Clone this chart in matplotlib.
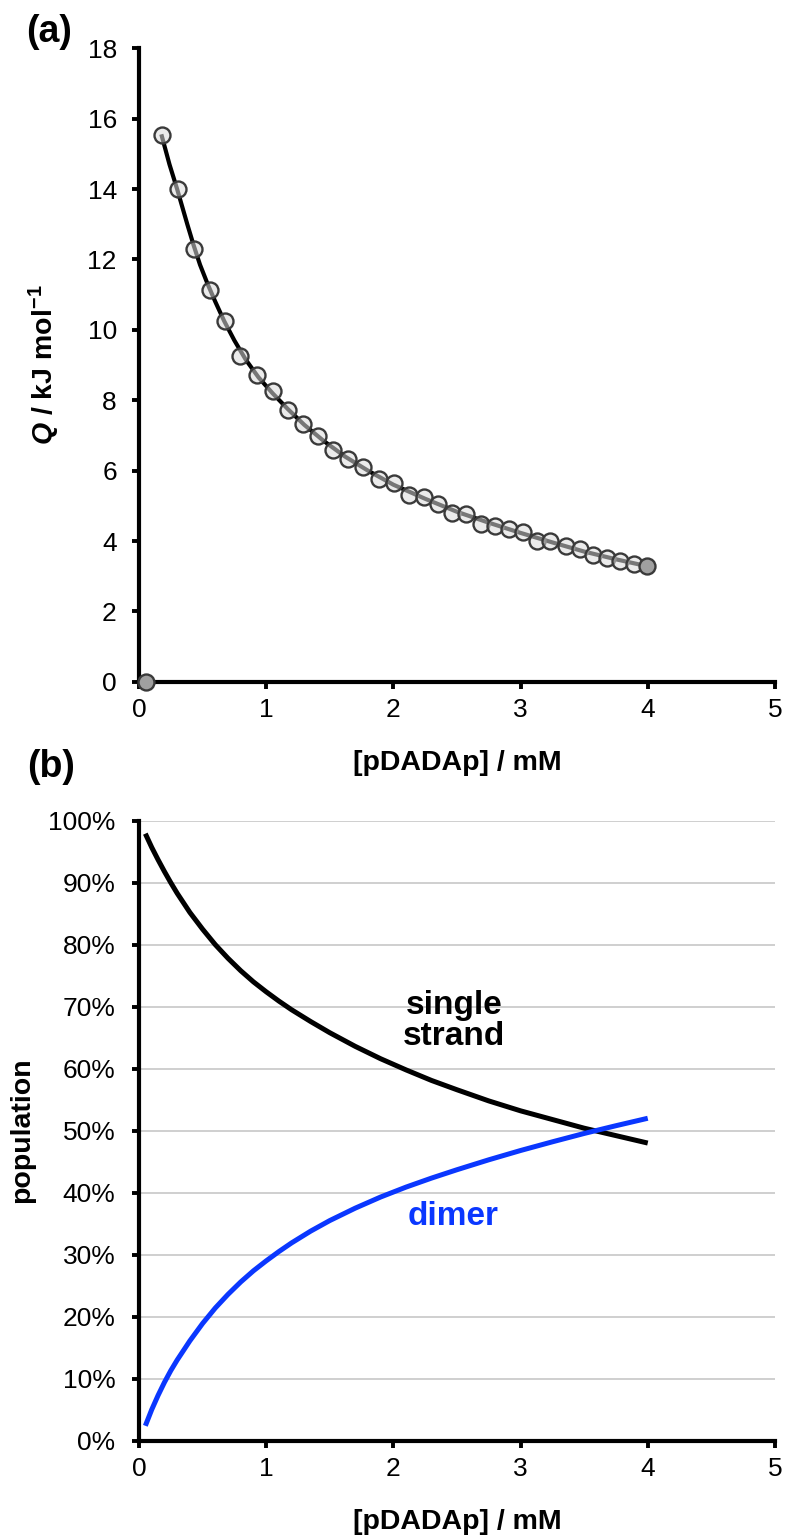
import matplotlib
matplotlib.use('Agg')
import matplotlib.pyplot as plt
from matplotlib.ticker import PercentFormatter

plt.rcParams['font.family'] = ['Liberation Sans', 'DejaVu Sans']
plt.rcParams['mathtext.fontset'] = 'custom'
plt.rcParams['mathtext.rm'] = 'Liberation Sans:bold'
plt.rcParams['mathtext.bf'] = 'Liberation Sans:bold'
plt.rcParams['mathtext.it'] = 'Liberation Sans:bold:italic'

# (a) heat per injection
conc = [0.055, 0.178, 0.304, 0.432, 0.556, 0.679, 0.797, 0.926, 1.052, 1.172,
        1.290, 1.411, 1.529, 1.647, 1.760, 1.884, 2.007, 2.120, 2.238, 2.351,
        2.461, 2.574, 2.690, 2.802, 2.913, 3.020, 3.130, 3.235, 3.354, 3.464,
        3.571, 3.676, 3.781, 3.891, 3.995]
heat = [0.0, 15.55, 14.0, 12.30, 11.12, 10.24, 9.27, 8.73, 8.25, 7.71,
        7.33, 6.97, 6.59, 6.32, 6.09, 5.76, 5.64, 5.32, 5.24, 5.05,
        4.79, 4.77, 4.49, 4.44, 4.34, 4.25, 3.99, 4.01, 3.87, 3.77,
        3.60, 3.52, 3.44, 3.36, 3.30]

# fitted curve
conc_fit = [0.18, 0.21, 0.24, 0.27, 0.30, 0.34, 0.38, 0.43, 0.48, 0.54,
            0.60, 0.67, 0.75, 0.84, 0.94, 1.05, 1.17, 1.30, 1.45, 1.62,
            1.80, 2.00, 2.25, 2.50, 2.75, 3.00, 3.25, 3.50, 3.75, 4.00]
heat_fit = [15.5, 15.1, 14.7, 14.35, 14.0, 13.5, 13.0, 12.4, 11.85, 11.3,
            10.8, 10.25, 9.7, 9.15, 8.65, 8.2, 7.75, 7.3, 6.85, 6.4,
            6.0, 5.6, 5.2, 4.83, 4.52, 4.23, 3.96, 3.70, 3.48, 3.28]

# (b) populations
conc_pop = [0.05, 0.10, 0.15, 0.20, 0.25, 0.30, 0.40, 0.50, 0.60, 0.70,
            0.80, 0.90, 1.00, 1.10, 1.20, 1.35, 1.50, 1.70, 1.90, 2.10,
            2.30, 2.50, 2.75, 3.00, 3.25, 3.50, 3.75, 4.00]
single = [97.9, 95.7, 93.7, 91.8, 90.0, 88.3, 85.2, 82.5, 80.0, 77.8,
          75.8, 74.0, 72.4, 70.9, 69.5, 67.6, 65.8, 63.6, 61.6, 59.8,
          58.1, 56.6, 54.8, 53.2, 51.8, 50.4, 49.2, 48.0]
dimer = [2.4, 5.0, 7.3, 9.4, 11.3, 13.0, 16.1, 18.9, 21.4, 23.6,
         25.6, 27.4, 29.0, 30.5, 31.9, 33.8, 35.5, 37.5, 39.3, 40.9,
         42.35, 43.7, 45.3, 46.8, 48.2, 49.55, 50.8, 52.0]

blue = '#0a37ff'

fig = plt.figure(figsize=(7.91, 15.4), dpi=100)
ax1 = fig.add_axes([0.1757, 0.5573, 0.804, 0.4113])
ax2 = fig.add_axes([0.1757, 0.0645, 0.804, 0.4026])

for ax in (ax1, ax2):
    ax.spines['top'].set_visible(False)
    ax.spines['right'].set_visible(False)
    for s in ('left', 'bottom'):
        ax.spines[s].set_linewidth(3)
    ax.tick_params(direction='out', length=5, width=2.8, labelsize=19)
    ax.tick_params(axis='x', pad=7)
    ax.set_xlim(0, 5)
    ax.set_xticks(range(6))

# top panel
ax1.plot(conc_fit, heat_fit, color='black', lw=3, zorder=2)
ax1.plot(conc[1:-1], heat[1:-1], 'o', ms=11.5, mfc=(0.86, 0.86, 0.86, 0.55),
         mec='#3a3a3a', mew=1.7, zorder=3)
ax1.plot([conc[0], conc[-1]], [heat[0], heat[-1]], 'o', ms=11.5, mfc='#a0a0a0',
         mec='#3a3a3a', mew=1.7, zorder=3, clip_on=False)
ax1.set_ylim(0, 18)
ax1.set_yticks(range(0, 19, 2))
ax1.tick_params(axis='y', pad=11)
ax1.set_xlabel('[pDADAp] / mM', fontsize=20.5, fontweight='bold')
ax1.set_ylabel(r'$\mathit{Q}$ / kJ mol$^{-1}$', fontsize=20.5, fontweight='bold')
ax1.xaxis.set_label_coords(0.5, -0.108)
ax1.yaxis.set_label_coords(-0.121, 0.5)

# bottom panel
ax2.grid(axis='y', color='#cccccc', lw=1.3)
ax2.set_axisbelow(True)
ax2.plot(conc_pop, single, color='black', lw=3.6, solid_capstyle='butt')
ax2.plot(conc_pop, dimer, color=blue, lw=3.6, solid_capstyle='butt')
ax2.set_ylim(0, 100)
ax2.set_yticks(range(0, 101, 10))
ax2.yaxis.set_major_formatter(PercentFormatter(decimals=0))
ax2.tick_params(axis='y', pad=12)
ax2.set_xlabel('[pDADAp] / mM', fontsize=20.5, fontweight='bold')
ax2.set_ylabel('population', fontsize=20.5, fontweight='bold')
ax2.xaxis.set_label_coords(0.5, -0.11)
ax2.yaxis.set_label_coords(-0.1635, 0.5)
ax2.text(2.48, 67.7, 'single\nstrand', fontsize=24, fontweight='bold',
         ha='center', va='center', linespacing=1.0)
ax2.text(2.47, 36.1, 'dimer', fontsize=24, fontweight='bold', color=blue,
         ha='center', va='center')

fig.text(0.062, 0.979, '(a)', fontsize=27, fontweight='bold', ha='center', va='center')
fig.text(0.0645, 0.502, '(b)', fontsize=27, fontweight='bold', ha='center', va='center')

fig.savefig('out.png', dpi=100)
